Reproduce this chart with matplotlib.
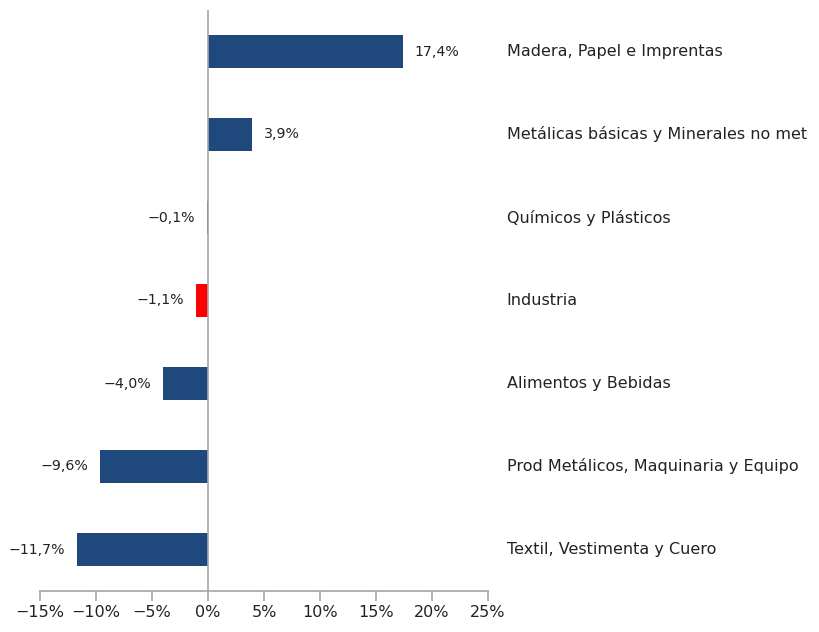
import matplotlib.pyplot as plt
import matplotlib.transforms as mtransforms

# data, top to bottom as in the chart
categories = [
    "Madera, Papel e Imprentas",
    "Metálicas básicas y Minerales no met",
    "Químicos y Plásticos",
    "Industria",
    "Alimentos y Bebidas",
    "Prod Metálicos, Maquinaria y Equipo",
    "Textil, Vestimenta y Cuero",
]
values = [17.4, 3.9, -0.1, -1.1, -4.0, -9.6, -11.7]
highlight = "Industria"
xticks = [-15, -10, -5, 0, 5, 10, 15, 20, 25]

BLUE = "#1F497D"
RED = "#FF0000"
GRAY = "#A6A6A6"
TEXT = "#222222"


def fmt_pct(v, decimals=1):
    s = f"{abs(v):.{decimals}f}".replace(".", ",")
    return ("\u2212" if v < 0 else "") + s + "%"


fig = plt.figure(figsize=(8.2, 6.32), dpi=100)
ax = fig.add_axes([40 / 820, 41 / 632, 448 / 820, 581 / 632])

ypos = list(range(len(categories)))[::-1]
colors = [RED if c == highlight else BLUE for c in categories]
ax.barh(ypos, values, height=0.40, color=colors, zorder=2)

ax.set_xlim(-15, 25)
ax.set_ylim(-0.5, len(categories) - 0.5)

# axes look: only the zero line and the bottom axis
for side in ["top", "right", "left"]:
    ax.spines[side].set_visible(False)
ax.spines["bottom"].set_color(GRAY)
ax.spines["bottom"].set_linewidth(1.2)
ax.axvline(0, color=GRAY, lw=1.2, zorder=3)
ax.set_yticks([])
ax.set_xticks(xticks)
ax.set_xticklabels([fmt_pct(t, 0) for t in xticks], fontsize=11.5, color=TEXT)
ax.tick_params(axis="x", length=7, width=1.2, color=GRAY, pad=3)

# value labels next to bars
for y, v in zip(ypos, values):
    off = 12 if v >= 0 else -12
    ax.annotate(fmt_pct(v), (v, y), xytext=(off, 0), textcoords="offset pixels",
                ha="left" if v >= 0 else "right", va="center", fontsize=10.2, color=TEXT)

# category labels to the right of the plot area
trans = mtransforms.blended_transform_factory(ax.transAxes, ax.transData)
for y, c in zip(ypos, categories):
    ax.text(1.042, y, c, transform=trans, ha="left", va="center",
            fontsize=11.5, color=TEXT, clip_on=False)

fig.savefig("out.png", dpi=100)
